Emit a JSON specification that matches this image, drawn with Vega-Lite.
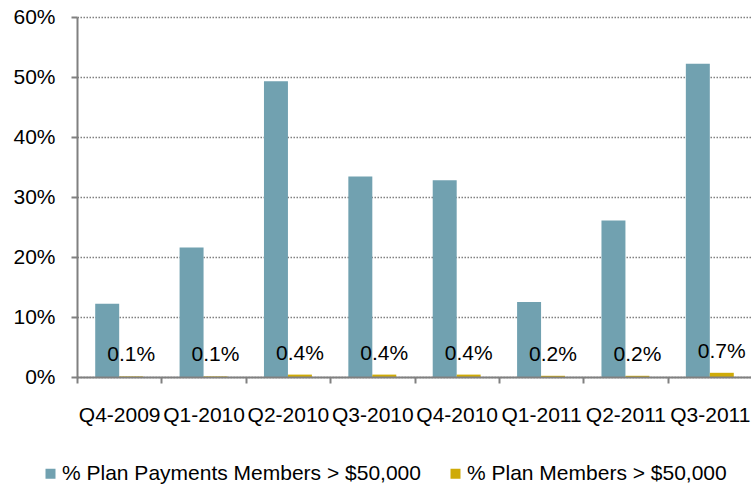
{
  "$schema": "https://vega.github.io/schema/vega-lite/v6.json",
  "width": 675,
  "height": 360,
  "autosize": "none",
  "padding": {"left": 77, "top": 17, "right": 0, "bottom": 109},
  "background": "white",
  "config": {"font": "Liberation Sans", "view": {"stroke": null}},
  "data": {
    "values": [
      {"quarter": "Q4-2009", "series": "% Plan Payments Members > $50,000", "value": 0.122},
      {"quarter": "Q1-2010", "series": "% Plan Payments Members > $50,000", "value": 0.216},
      {"quarter": "Q2-2010", "series": "% Plan Payments Members > $50,000", "value": 0.493},
      {"quarter": "Q3-2010", "series": "% Plan Payments Members > $50,000", "value": 0.334},
      {"quarter": "Q4-2010", "series": "% Plan Payments Members > $50,000", "value": 0.328},
      {"quarter": "Q1-2011", "series": "% Plan Payments Members > $50,000", "value": 0.125},
      {"quarter": "Q2-2011", "series": "% Plan Payments Members > $50,000", "value": 0.261},
      {"quarter": "Q3-2011", "series": "% Plan Payments Members > $50,000", "value": 0.522},
      {"quarter": "Q4-2009", "series": "% Plan Members > $50,000", "value": 0.001},
      {"quarter": "Q1-2010", "series": "% Plan Members > $50,000", "value": 0.001},
      {"quarter": "Q2-2010", "series": "% Plan Members > $50,000", "value": 0.004},
      {"quarter": "Q3-2010", "series": "% Plan Members > $50,000", "value": 0.004},
      {"quarter": "Q4-2010", "series": "% Plan Members > $50,000", "value": 0.004},
      {"quarter": "Q1-2011", "series": "% Plan Members > $50,000", "value": 0.002},
      {"quarter": "Q2-2011", "series": "% Plan Members > $50,000", "value": 0.002},
      {"quarter": "Q3-2011", "series": "% Plan Members > $50,000", "value": 0.007}
    ]
  },
  "encoding": {
    "x": {
      "field": "quarter",
      "type": "nominal",
      "sort": null,
      "scale": {"paddingInner": 0, "paddingOuter": 0},
      "axis": {
        "title": null,
        "labelAngle": 0,
        "labelFontSize": 21,
        "labelColor": "black",
        "domainColor": "#808080",
        "domainWidth": 2,
        "tickColor": "#808080",
        "tickWidth": 2,
        "tickSize": 6,
        "tickBand": "extent",
        "labelPadding": 21,
        "grid": false,
        "labelFlush": false,
        "labelOverlap": false,
        "labelLimit": 0,
        "zindex": 1
      }
    },
    "xOffset": {
      "field": "series",
      "type": "nominal",
      "scale": {
        "domain": ["% Plan Payments Members > $50,000", "% Plan Members > $50,000"],
        "paddingInner": 0,
        "paddingOuter": 0.76
      }
    },
    "y": {
      "field": "value",
      "type": "quantitative",
      "scale": {"domain": [0, 0.6], "nice": false},
      "axis": {
        "title": null,
        "format": ".0%",
        "values": [0, 0.1, 0.2, 0.3, 0.4, 0.5, 0.6],
        "labelFontSize": 21,
        "labelColor": "black",
        "domainColor": "#808080",
        "domainWidth": 2,
        "tickColor": "#808080",
        "tickWidth": 2,
        "tickSize": 6,
        "labelPadding": 16,
        "labelFlush": false,
        "grid": true,
        "gridColor": "#808080",
        "gridDash": [1.5, 1.5],
        "gridWidth": 1.5
      }
    }
  },
  "layer": [
    {
      "mark": {"type": "bar"},
      "encoding": {
        "color": {
          "field": "series",
          "type": "nominal",
          "scale": {
            "domain": ["% Plan Payments Members > $50,000", "% Plan Members > $50,000"],
            "range": ["#71A1B0", "#CFAB08"]
          },
          "legend": {
            "orient": "none",
            "legendX": -37,
            "legendY": 446,
            "direction": "horizontal",
            "columns": 2,
            "title": null,
            "symbolType": "square",
            "symbolSize": 100,
            "symbolStrokeWidth": 0,
            "labelFontSize": 21,
            "labelColor": "black",
            "labelOffset": 1,
            "columnPadding": 24,
            "labelLimit": 0
          }
        }
      }
    },
    {
      "transform": [{"filter": "datum.series === '% Plan Members > $50,000'"}],
      "mark": {"type": "text", "dy": -15, "baseline": "alphabetic", "fontSize": 21, "color": "black"},
      "encoding": {
        "text": {"field": "value", "type": "quantitative", "format": ".1%"}
      }
    }
  ]
}
